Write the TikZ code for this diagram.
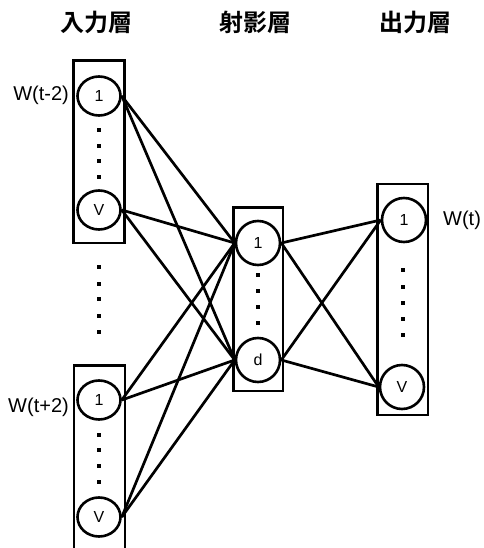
\documentclass[tikz,border=0pt]{standalone}
\usepackage{fontspec}
\setmainfont{Liberation Sans}
\newfontfamily\cjkbold{Noto Sans CJK TC Bold}
\usetikzlibrary{shapes.geometric}
\tikzset{
  layerbox/.style={draw, line width=2.7pt},
  inunit/.style={ellipse, draw, line width=2.6pt, minimum width=43pt, minimum height=39pt, inner sep=0pt, font=\fontsize{16}{16}\selectfont},
  unit/.style={circle, draw, line width=2.6pt, minimum size=44pt, inner sep=0pt, font=\fontsize{16}{16}\selectfont},
  dotmark/.style={rectangle, fill=black, minimum size=4.5pt, inner sep=0pt},
  wire/.style={line width=2.7pt},
  wordlabel/.style={font=\fontsize{20}{20}\selectfont, inner sep=0pt},
  title/.style={font=\cjkbold\fontsize{24}{24}\selectfont, inner sep=0pt}
}
\begin{document}
\begin{tikzpicture}[x=1pt,y=-1pt]
\useasboundingbox (0,0) rectangle (483,548);
\clip (0,0) rectangle (483,548);

% layer titles
\node[title] (tin)   at (96,22)  {入力層};
\node[title] (tproj) at (255,22) {射影層};
\node[title] (tout)  at (415,22) {出力層};

% input layer, word t-2
\draw[layerbox] (73.5,60.5) rectangle (124.5,243);
\node[inunit] (ia1) at (99,96)  {1};
\node[inunit] (iaV) at (99,210) {V};
\foreach \y [count=\k] in {130,146,161,177} \node[dotmark] (iad\k) at (99,\y) {};
\node[wordlabel, anchor=east] (wa) at (69,95) {W(t-2)};

% ellipsis between the two input groups
\foreach \y [count=\k] in {267,284,299,316,332} \node[dotmark] (gd\k) at (99,\y) {};

% input layer, word t+2
\draw[layerbox] (74,365.5) rectangle (125,570);
\node[inunit] (ib1) at (99,400) {1};
\node[inunit] (ibV) at (99,517) {V};
\foreach \y [count=\k] in {435,450,466,482} \node[dotmark] (ibd\k) at (99,\y) {};
\node[wordlabel, anchor=east] (wb) at (69,407) {W(t+2)};

% projection layer
\draw[layerbox] (233.5,207.5) rectangle (283,391);
\node[unit] (p1) at (258,243) {1};
\node[unit] (pd) at (258,360) {d};
\foreach \y [count=\k] in {275,291,307,323} \node[dotmark] (pdd\k) at (258,\y) {};

% output layer
\draw[layerbox] (377.5,184) rectangle (428,415);
\node[unit] (o1) at (404,220) {1};
\node[unit] (oV) at (402,387) {V};
\foreach \y [count=\k] in {270,287,303,319,335} \node[dotmark] (odd\k) at (403,\y) {};
\node[wordlabel, anchor=west] (wt) at (443,220) {W(t)};

% input -> projection
\foreach \s in {ia1,iaV,ib1,ibV}
  \foreach \t in {p1,pd}
    \draw[wire] (\s.east) -- (\t.west);

% projection -> output
\foreach \s in {p1,pd}
  \foreach \t in {o1,oV}
    \draw[wire] (\s.east) -- (\t.west);
\end{tikzpicture}
\end{document}
